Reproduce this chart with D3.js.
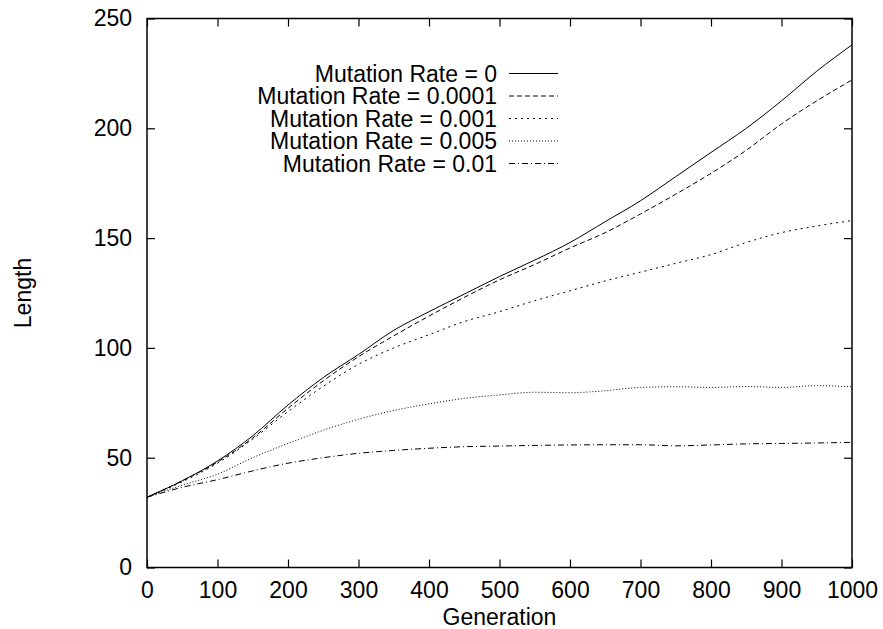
<!DOCTYPE html>
<html>
<head>
<meta charset="utf-8">
<script src="https://cdnjs.cloudflare.com/ajax/libs/d3/7.8.5/d3.min.js"></script>
<style>
  body { margin: 0; background: #fff; }
  text { font-family: "Liberation Sans", Arial, Helvetica, sans-serif; fill: #000; }
</style>
</head>
<body>
<div id="chart"></div>
<script>
// generations sampled every 50
var generations = [0, 50, 100, 150, 200, 250, 300, 350, 400, 450, 500,
                   550, 600, 650, 700, 750, 800, 850, 900, 950, 1000];

var rate0 = [32, 39.5, 48.5, 60, 74, 86.5, 97, 108, 116.5, 124.5, 132.5,
             140, 148, 157.5, 167, 178, 189, 200, 212.5, 226, 238];
var rate00001 = [32, 39.5, 48, 59, 72.5, 85, 96, 105.5, 114.5, 123, 131,
                 138, 145.5, 152.5, 161, 170, 179.5, 190, 202, 212.5, 222];
var rate0001 = [32, 39, 47.5, 58.5, 71, 82.5, 92.5, 100, 106, 112, 116.5,
                121.5, 126, 130.5, 134.5, 138.5, 142.5, 148, 152.5, 155.5, 158];
var rate0005 = [32, 37.5, 42.5, 50, 56.5, 62.5, 67.5, 71.5, 74.5, 77, 78.6,
                79.8, 79.6, 80.5, 82, 82.3, 82, 82.4, 82, 82.8, 82.3];
var rate001 = [32, 36.5, 40, 44, 47.5, 50, 52, 53.3, 54.3, 55, 55.3,
               55.6, 55.8, 55.9, 55.9, 55.4, 55.8, 56.3, 56.5, 56.7, 57];

var seriesNames = ["Mutation Rate = 0", "Mutation Rate = 0.0001", "Mutation Rate = 0.001",
                   "Mutation Rate = 0.005", "Mutation Rate = 0.01"];
var xTicks = [0, 100, 200, 300, 400, 500, 600, 700, 800, 900, 1000];
var yTicks = [0, 50, 100, 150, 200, 250];

var dashes = [null, "5,3", "2,4", "1,2", "6,3,1,3"];
var allSeries = [rate0, rate00001, rate0001, rate0005, rate001];

var width = 883, height = 629;
var plotLeft = 147, plotRight = 852, plotTop = 18.5, plotBottom = 567.5;

var svg = d3.select("#chart").append("svg")
    .attr("width", width)
    .attr("height", height);

var x = d3.scaleLinear().domain([0, 1000]).range([plotLeft, plotRight]);
var y = d3.scaleLinear().domain([0, 250]).range([plotBottom, plotTop]);

// ticks point inwards on all four sides (gnuplot style)
var tick = 8;
svg.append("g")
    .attr("transform", "translate(0," + plotBottom + ")")
    .call(d3.axisBottom(x).tickValues(xTicks).tickSize(-tick).tickPadding(14).tickFormat(d3.format("d")))
    .call(function(g) { g.select(".domain").remove(); });
svg.append("g")
    .attr("transform", "translate(0," + plotTop + ")")
    .call(d3.axisTop(x).tickValues(xTicks).tickSize(-tick).tickFormat(""))
    .call(function(g) { g.select(".domain").remove(); });
svg.append("g")
    .attr("transform", "translate(" + plotLeft + ",0)")
    .call(d3.axisLeft(y).tickValues(yTicks).tickSize(-tick).tickPadding(15).tickFormat(d3.format("d")))
    .call(function(g) { g.select(".domain").remove(); });
svg.append("g")
    .attr("transform", "translate(" + plotRight + ",0)")
    .call(d3.axisRight(y).tickValues(yTicks).tickSize(-tick).tickFormat(""))
    .call(function(g) { g.select(".domain").remove(); });

svg.selectAll(".tick line").attr("stroke", "#000").attr("stroke-width", 1.2);
svg.selectAll(".tick text")
    .style("font-size", "23px")
    .style("font-family", "'Liberation Sans', Arial, sans-serif");

svg.append("rect")
    .attr("x", plotLeft).attr("y", plotTop)
    .attr("width", plotRight - plotLeft).attr("height", plotBottom - plotTop)
    .attr("fill", "none").attr("stroke", "#000").attr("stroke-width", 1.5);

// the curves
var line = d3.line()
    .x(function(d, i) { return x(generations[i]); })
    .y(function(d) { return y(d); })
    .curve(d3.curveMonotoneX);

svg.selectAll(".series")
    .data(allSeries)
  .enter().append("path")
    .attr("class", "series")
    .attr("d", line)
    .attr("fill", "none")
    .attr("stroke", "#000")
    .attr("stroke-width", 1)
    .attr("stroke-dasharray", function(d, i) { return dashes[i]; });

// legend
var legend = svg.append("g").attr("class", "legend");
seriesNames.forEach(function(name, i) {
  var ly = 73.5 + i * 22.5;
  legend.append("text")
      .attr("x", 497).attr("y", ly)
      .attr("dy", "0.35em")
      .attr("text-anchor", "end")
      .style("font-size", "23px")
      .text(name);
  legend.append("line")
      .attr("x1", 509).attr("x2", 558)
      .attr("y1", ly).attr("y2", ly)
      .attr("stroke", "#000")
      .attr("stroke-width", 1)
      .attr("stroke-dasharray", dashes[i]);
});

// axis titles
svg.append("text")
    .attr("x", (plotLeft + plotRight) / 2).attr("y", 625)
    .attr("text-anchor", "middle")
    .style("font-size", "23px")
    .text("Generation");
svg.append("text")
    .attr("transform", "translate(31,293) rotate(-90)")
    .attr("text-anchor", "middle")
    .style("font-size", "23px")
    .text("Length");
</script>
</body>
</html>
